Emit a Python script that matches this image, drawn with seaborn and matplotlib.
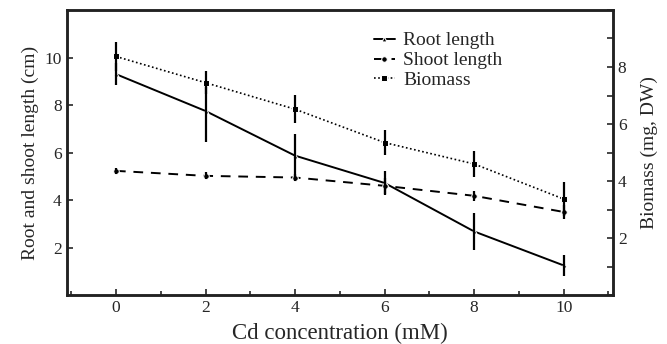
import numpy as np
import pandas as pd
import matplotlib
matplotlib.use('Agg')
import matplotlib.pyplot as plt
import seaborn as sns
from matplotlib.ticker import MultipleLocator

# Dữ liệu
cd_conc = [0, 2, 4, 6, 8, 10]
root_length = [9.3, 7.75, 5.87, 4.72, 2.68, 1.25]
root_err = [0.45, 1.3, 0.9, 0.5, 0.78, 0.45]
shoot_length = [5.23, 5.02, 4.95, 4.6, 4.18, 3.5]
shoot_err = [0.12, 0.15, 0.15, 0.35, 0.2, 0.3]
biomass = [8.37, 7.45, 6.52, 5.35, 4.6, 3.37]
biomass_err = [0.5, 0.4, 0.5, 0.45, 0.47, 0.6]

df = pd.DataFrame({'Cd': cd_conc, 'Root': root_length, 'Shoot': shoot_length,
                   'Biomass': biomass})

sns.set_style('white')
plt.rcParams['font.family'] = ['Liberation Serif', 'DejaVu Serif']

fig = plt.figure(figsize=(6.67, 3.44), dpi=100)
ax = fig.add_axes([0.1, 0.142, 0.819, 0.829])
ax2 = ax.twinx()

# Các đường chiều dài rễ và thân
sns.lineplot(data=df, x='Cd', y='Root', ax=ax, color='black', linestyle='-',
             marker='^', markersize=3.5, linewidth=1.4, label='Root length', legend=False)
sns.lineplot(data=df, x='Cd', y='Shoot', ax=ax, color='black', linestyle=(0, (5, 4)),
             marker='o', markersize=4, linewidth=1.4, label='Shoot length', legend=False)
ax.errorbar(cd_conc, root_length, yerr=root_err, fmt='none', ecolor='black', elinewidth=1.6)
ax.errorbar(cd_conc, shoot_length, yerr=shoot_err, fmt='none', ecolor='black', elinewidth=1.6)

# Sinh khối trên trục phải
sns.lineplot(data=df, x='Cd', y='Biomass', ax=ax2, color='black', linestyle=(0, (1, 1.5)),
             marker='s', markersize=4, linewidth=1.2, label='Biomass', legend=False)
ax2.errorbar(cd_conc, biomass, yerr=biomass_err, fmt='none', ecolor='black', elinewidth=1.6)

ax.set_xlim(-1.1, 11.1)
ax.set_ylim(0, 12)
ax2.set_ylim(0, 10)

ax.set_xticks([0, 2, 4, 6, 8, 10])
ax.xaxis.set_minor_locator(MultipleLocator(1))
ax.set_yticks([2, 4, 6, 8, 10])
ax2.set_yticks([2, 4, 6, 8])
ax2.yaxis.set_minor_locator(MultipleLocator(1))

ax.tick_params(axis='both', which='major', direction='in', length=4, width=1.2,
               labelsize=12.5, bottom=True, left=True)
ax.tick_params(axis='x', which='minor', direction='in', length=3, width=1.2, bottom=True)
ax2.tick_params(axis='y', which='both', direction='in', length=4, width=1.2,
                labelsize=12.5, right=True)

ax.set_xlabel('Cd concentration (mM)', fontsize=16.5, labelpad=5)
ax.set_ylabel('Root and shoot length (cm)', fontsize=14)
ax2.set_ylabel('Biomass (mg, DW)', fontsize=14, labelpad=10)

for a in (ax, ax2):
    for s in a.spines.values():
        s.set_linewidth(1.8)
        s.set_color('#222222')

h1, l1 = ax.get_legend_handles_labels()
h2, l2 = ax2.get_legend_handles_labels()
ax2.legend(h1 + h2, l1 + l2, loc='upper left', bbox_to_anchor=(0.53, 0.985),
           frameon=False, fontsize=14, handlelength=1.1, handletextpad=0.4,
           labelspacing=0.12)

fig.savefig('out.png', dpi=100)
